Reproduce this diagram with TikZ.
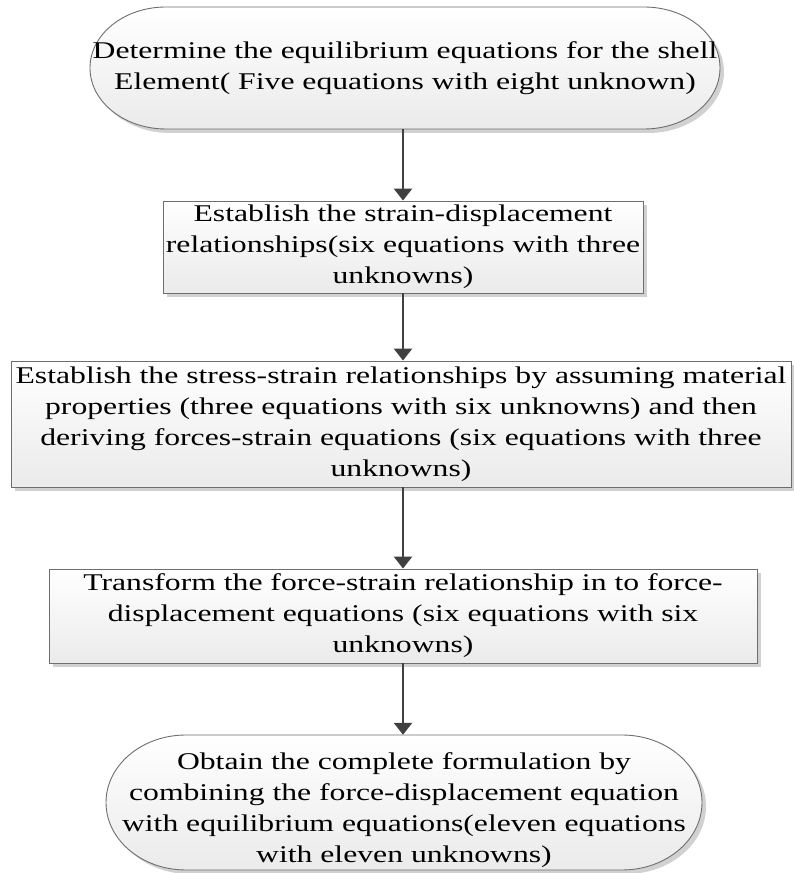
\documentclass[tikz,border=0pt]{standalone}
\usepackage{fontspec}
\setmainfont[FakeStretch=1.32]{Liberation Serif}
\usetikzlibrary{arrows.meta,shadows}
\definecolor{edge}{HTML}{6E6E6E}
\definecolor{arrowc}{HTML}{404040}
\tikzset{
  myshadow/.style={drop shadow={shadow xshift=4pt,shadow yshift=-4pt,opacity=0.18,fill=black}},
  boxnode/.style={draw=edge,line width=0.9pt,top color=white,bottom color=black!8,myshadow,
    inner sep=0pt,align=center,font=\fontsize{24}{31}\selectfont},
  termshape/.style={draw=edge,line width=0.9pt,top color=white,bottom color=black!8,myshadow},
  termtext/.style={inner sep=0pt,align=center,font=\fontsize{24}{31}\selectfont},
  flow/.style={draw=arrowc,line width=2.6pt,-{Triangle[width=18pt,length=12pt]}}
}
\begin{document}
\begin{tikzpicture}[x=1pt,y=1pt]
\useasboundingbox (0,0) rectangle (793,873);
% top terminator
\path[termshape] (166,866) -- (644,866) arc[start angle=90,end angle=-90,x radius=76,y radius=61]
  -- (166,744) arc[start angle=270,end angle=90,x radius=76,y radius=61] -- cycle;
\node[termtext,minimum width=630pt,minimum height=122pt] (t1) at (405,805)
  {Determine the equilibrium equations for the shell\\Element( Five equations with eight unknown)};
% boxes
\node[boxnode,minimum width=480pt,minimum height=92pt] (b2) at (403,626)
  {Establish the strain-displacement\\relationships(six equations with three\\unknowns)};
\node[boxnode,minimum width=780pt,minimum height=126pt] (b3) at (401,449)
  {Establish the stress-strain relationships by assuming material\\properties (three equations with six unknowns) and then\\deriving forces-strain equations (six equations with three\\unknowns)};
\node[boxnode,minimum width=708pt,minimum height=94pt] (b4) at (403,257)
  {Transform the force-strain relationship in to force-\\displacement equations (six equations with six\\unknowns)};
% bottom terminator
\path[termshape] (186,138) -- (622,138) arc[start angle=90,end angle=-90,x radius=80,y radius=67.5]
  -- (186,3) arc[start angle=270,end angle=90,x radius=80,y radius=67.5] -- cycle;
\node[termtext,minimum width=596pt,minimum height=150pt] (t5) at (404,63)
  {Obtain the complete formulation by\\combining the force-displacement equation\\with equilibrium equations(eleven equations\\with eleven unknowns)};
% arrows
\draw[flow] (t1.south -| b2.north) -- (b2.north);
\draw[flow] (b2.south) -- (b2.south |- b3.north);
\draw[flow] (b3.south -| b4.north) -- (b4.north);
\draw[flow] (b4.south) -- (b4.south |- t5.north);
\end{tikzpicture}
\end{document}
